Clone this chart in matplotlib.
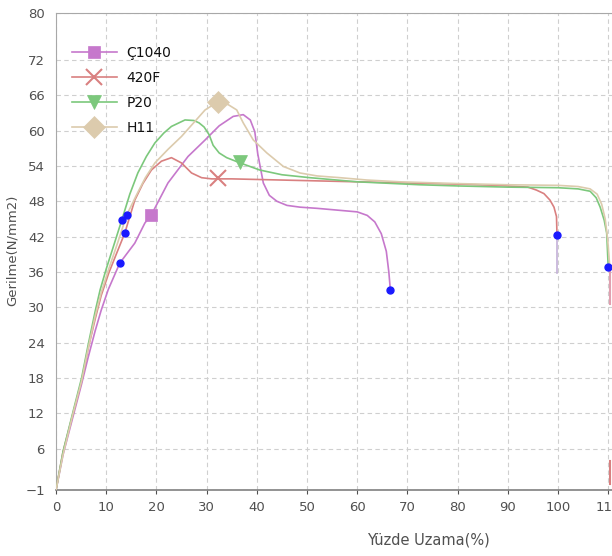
import numpy as np
import matplotlib
matplotlib.use("Agg")
import matplotlib.pyplot as plt

# Gerilme - uzama egrileri
c1040_x = [0, 1.4, 3.4, 5.1, 6.4, 7.8, 9, 10.4, 12.7, 15.7, 17.7, 19, 22.3, 26.3, 29.7, 32.5,
           35.3, 37.3, 38.7, 39.6, 40.2, 41.3, 42.5, 44, 46, 48.6, 52, 56, 60, 62, 63.5,
           64.8, 65.8, 66.3, 66.6]
c1040_y = [-1, 5, 11.5, 17, 21.5, 26, 29.5, 33, 37.5, 40.9, 44.3, 45.7, 51.1, 55.6, 58.4, 60.8,
           62.4, 62.7, 61.8, 59.8, 56, 51.1, 49, 48, 47.3, 47.0, 46.8, 46.5, 46.2, 45.6, 44.5,
           42.5, 39.5, 36, 33]

f420_x = [0, 1.4, 3.4, 5.1, 6.4, 7.8, 9, 10.5, 12, 13.7, 15.7, 17.3, 19, 21, 23, 25, 27, 29,
          31, 35, 40, 50, 60, 70, 80, 88, 94, 95.7, 97.2, 98.4, 99.2, 99.7, 99.8]
f420_y = [-1, 5.5, 12, 17.5, 23, 28, 32, 35.8, 39, 42.6, 48.2, 51, 53.3, 54.8, 55.4, 54.5,
          52.8, 52, 51.8, 51.8, 51.7, 51.5, 51.3, 51.1, 50.9, 50.7, 50.4, 49.9, 49.3, 48.2,
          47, 45.4, 42.3]

p20_x = [0, 1.4, 3.4, 5.1, 6.4, 7.8, 8.8, 10, 11.5, 13.1, 14.7, 16.3, 18, 19.7, 21.5, 23,
         25.7, 27.5, 28.5, 29.5, 30.5, 31.3, 32.5, 34, 36.7, 40.6, 45, 50.6, 60, 72.5, 80, 90,
         100, 104, 106.4, 107.6, 108.4, 109.2, 109.7, 110]
p20_y = [-1, 5.5, 12.3, 18, 23.6, 29.3, 33, 36.5, 40.5, 44.8, 49.2, 52.8, 55.6, 57.9, 59.6,
         60.7, 61.8, 61.7, 61.3, 60.6, 59.3, 57.5, 56.2, 55.4, 54.5, 53.3, 52.5, 52, 51.3,
         50.8, 50.6, 50.4, 50.3, 50.1, 49.7, 48.6, 47, 44.8, 42.6, 36.9]

h11_x = [0, 1.4, 3.4, 5.1, 6.4, 7.8, 9, 10.5, 12.3, 14.1, 16, 17.8, 19.7, 22.3, 25, 27.3,
         29.7, 32.3, 34.3, 36, 37.3, 39.3, 42, 45.3, 48.6, 52, 56.6, 62, 68.5, 80, 90, 100,
         104, 106.4, 107.8, 108.7, 109.4, 109.9, 110.3]
h11_y = [-1, 5, 12, 17.5, 23, 28.5, 32.5, 36.5, 41, 45.7, 49, 52, 54.5, 56.8, 59, 61.2, 63.5,
         64.9, 64.4, 63.5, 61.3, 58.4, 56.2, 53.9, 52.8, 52.3, 52, 51.6, 51.3, 51, 50.8, 50.7,
         50.5, 50.1, 49.2, 47.5, 45, 41.5, 37]

# seri isaretleri
mark_x = {"Ç1040": 19, "420F": 32.3, "P20": 36.7, "H11": 32.3}
mark_y = {"Ç1040": 45.7, "420F": 52, "P20": 54.7, "H11": 64.9}

# mavi noktalar (akma / kopma)
dot_x = [12.7, 13.7, 13.1, 14.1, 66.6, 99.8, 110]
dot_y = [37.5, 42.6, 44.8, 45.7, 33, 42.3, 36.9]

# kopma sonrasi dikey inisler
tail1_x = [99.8, 99.8]
tail1_y = [42.3, 35.8]
tail2_x = [110.4, 110.4]
tail2_y = [37, 30.5]
tail3_x = [110.4, 110.4]
tail3_y = [4, 0]

yticks = [-1, 6, 12, 18, 24, 30, 36, 42, 48, 54, 60, 66, 72, 80]
xticks = [0, 10, 20, 30, 40, 50, 60, 70, 80, 90, 100, 110]

fig = plt.figure(figsize=(6.12, 5.56), dpi=100)
ax = fig.add_axes([56 / 612, 66 / 556, 577.3 / 612, 477.3 / 556])

series = [
    ("Ç1040", c1040_x, c1040_y, "#c678cc", "s", 9),
    ("420F", f420_x, f420_y, "#d98080", "x", 11),
    ("P20", p20_x, p20_y, "#7cc87c", "v", 10),
    ("H11", h11_x, h11_y, "#dccbad", "D", 11),
]

for name, xs, ys, col, mk, ms in series:
    mew = 1.5 if mk == "x" else 0.5
    ax.plot(xs, ys, color=col, lw=1.2, zorder=3)
    ax.plot([mark_x[name]], [mark_y[name]], linestyle="none", marker=mk, color=col,
            markersize=ms, markeredgewidth=mew, zorder=4)
    # sadece lejant icin
    ax.plot([], [], color=col, lw=1.2, marker=mk, markersize=ms,
            markeredgewidth=mew, label=name)

ax.plot(tail1_x, tail1_y, color="#c4b0d8", lw=1.2, zorder=2)
ax.plot(tail2_x, tail2_y, color="#e0a0b0", lw=1.5, zorder=2)
ax.plot(tail3_x, tail3_y, color="#d88080", lw=1.5, zorder=2)
ax.plot(dot_x, dot_y, linestyle="none", marker="o", color="#1a1aff", markersize=5, zorder=5)

ax.set_xlim(0, 115)
ax.set_ylim(-1, 80)
ax.set_xticks(xticks)
ax.set_yticks(yticks)
ax.grid(True, linestyle=(0, (4, 3)), color="#cfcfcf", lw=0.8)
ax.tick_params(axis="both", labelsize=9.5, colors="#505050", length=3, pad=5)
ax.tick_params(axis="y", length=0, pad=8)
for side in ["left", "top", "right"]:
    ax.spines[side].set_color("#a8a8a8")
ax.spines["bottom"].set_color("#808080")
ax.spines["bottom"].set_linewidth(1.2)

leg = ax.legend(loc="upper left", bbox_to_anchor=(66 / 612, 1 - 40 / 556),
                bbox_transform=fig.transFigure, frameon=False, fontsize=10,
                handlelength=3.3, handletextpad=0.65, labelspacing=0.8,
                numpoints=1, borderaxespad=0)
for t in leg.get_texts():
    t.set_color("#111111")

fig.text(428 / 612, 1 - 540 / 556, "Yüzde Uzama(%)", ha="center", va="center",
         fontsize=10.5, color="#505050")
fig.text(12 / 612, 1 - 250 / 556, "Gerilme(N/mm2)", ha="center", va="center",
         rotation=90, fontsize=9.5, color="#505050")

fig.savefig("out.png", dpi=100)
